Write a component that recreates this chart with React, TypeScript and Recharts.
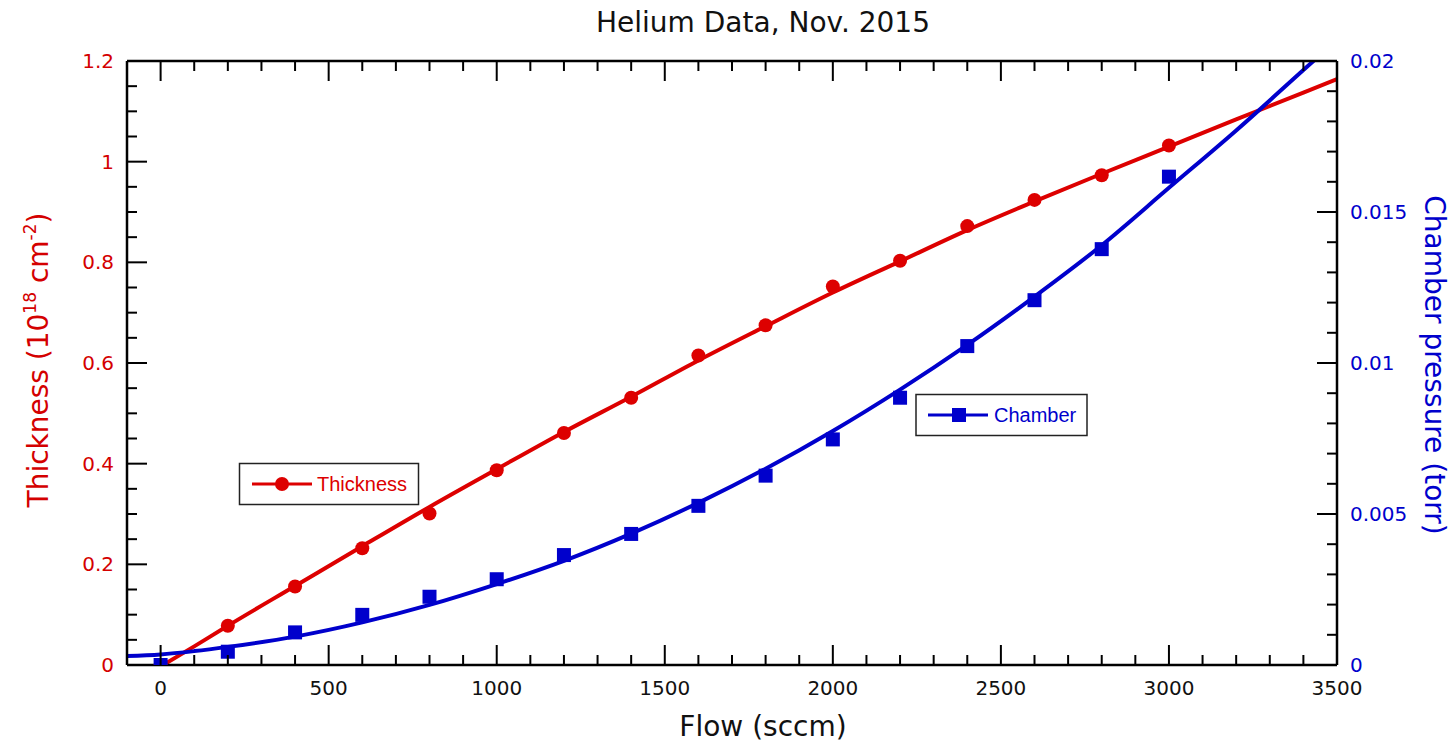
import React from 'react';
import { ComposedChart, Line, Scatter, XAxis, YAxis } from 'recharts';

// measured points (flow in sccm)
const flowPoints = [0, 200, 400, 600, 800, 1000, 1200, 1400, 1600, 1800, 2000, 2200, 2400, 2600, 2800, 3000];
const thicknessPoints = [0, 0.078, 0.156, 0.232, 0.301, 0.387, 0.461, 0.531, 0.615, 0.675, 0.752, 0.803, 0.872, 0.924, 0.973, 1.032];
const chamberPoints = [0, 0.00044, 0.00108, 0.00166, 0.00226, 0.00284, 0.00364, 0.00434, 0.00527, 0.00627, 0.00747, 0.00885, 0.01056, 0.01208, 0.01377, 0.01617];

// fit curves
const thicknessFitFlow = [0, 100, 200, 400, 600, 800, 1000, 1200, 1400, 1600, 1800, 2000, 2200, 2400, 2600, 2800, 3000, 3200, 3400, 3500];
const thicknessFitValues = [-0.003, 0.037, 0.078, 0.157, 0.236, 0.314, 0.389, 0.463, 0.533, 0.605, 0.673, 0.74, 0.802, 0.864, 0.921, 0.976, 1.03, 1.084, 1.137, 1.164];
const chamberFitFlow = [-100, 0, 100, 200, 400, 600, 800, 1000, 1200, 1400, 1600, 1800, 2000, 2200, 2400, 2600, 2800, 3000, 3200, 3400, 3500];
const chamberFitValues = [0.0003, 0.00035, 0.00046, 0.0006, 0.00094, 0.00141, 0.00199, 0.00268, 0.00345, 0.00435, 0.00537, 0.0065, 0.00775, 0.00912, 0.0106, 0.0122, 0.0139, 0.0158, 0.0177, 0.0197, 0.0207];

// tick labels
const xTicks = [0, 500, 1000, 1500, 2000, 2500, 3000, 3500];
const leftTicks = [0, 0.2, 0.4, 0.6, 0.8, 1, 1.2];
const rightTicks = [0, 0.005, 0.01, 0.015, 0.02];

const xMinor = Array.from({ length: 36 }, (_, i) => i * 100);
const leftMinor = Array.from({ length: 25 }, (_, i) => +(i * 0.05).toFixed(2));
const rightMinor = Array.from({ length: 21 }, (_, i) => +(i * 0.001).toFixed(3));

const thicknessData = flowPoints.map((x, i) => ({ x, y: thicknessPoints[i] }));
const chamberData = flowPoints.map((x, i) => ({ x, y: chamberPoints[i] }));
const thicknessFit = thicknessFitFlow.map((x, i) => ({ x, y: thicknessFitValues[i] }));
const chamberFit = chamberFitFlow.map((x, i) => ({ x, y: chamberFitValues[i] }));

const FONT = '"DejaVu Sans", sans-serif';
const LEGEND_FONT = '"Liberation Sans", Arial, sans-serif';
const RED = '#dd0000';
const BLUE = '#0000cc';
const RED_TEXT = '#d40000';

const near = (v: number, list: number[]) => list.some((t) => Math.abs(t - v) < 1e-9);
const fmt = (v: number) => String(parseFloat(v.toFixed(4)));

const BottomTick = ({ x, y, payload }: any) => {
  const major = near(payload.value, xTicks);
  return (
    <g>
      <line x1={x} x2={x} y1={y} y2={y - (major ? 20 : 10)} stroke="#000" strokeWidth={2} />
      {major && (
        <text x={x} y={y + 30} textAnchor="middle" fontSize={20} fontFamily={FONT} fill="#111">
          {fmt(payload.value)}
        </text>
      )}
    </g>
  );
};

const TopTick = ({ x, y, payload }: any) => {
  const major = near(payload.value, xTicks);
  return <line x1={x} x2={x} y1={y} y2={y + (major ? 20 : 10)} stroke="#000" strokeWidth={2} />;
};

const LeftTick = ({ x, y, payload }: any) => {
  const major = near(payload.value, leftTicks);
  return (
    <g>
      <line x1={x} x2={x + (major ? 20 : 10)} y1={y} y2={y} stroke="#000" strokeWidth={2} />
      {major && (
        <text x={x - 13} y={y + 7} textAnchor="end" fontSize={20} fontFamily={FONT} fill={RED_TEXT}>
          {fmt(payload.value)}
        </text>
      )}
    </g>
  );
};

const RightTick = ({ x, y, payload }: any) => {
  const major = near(payload.value, rightTicks);
  return (
    <g>
      <line x1={x} x2={x - (major ? 20 : 10)} y1={y} y2={y} stroke="#000" strokeWidth={2} />
      {major && (
        <text x={x + 13} y={y + 7} textAnchor="start" fontSize={20} fontFamily={FONT} fill={BLUE}>
          {fmt(payload.value)}
        </text>
      )}
    </g>
  );
};

const axisLine = { stroke: '#000', strokeWidth: 2.5 };

export default function App() {
  return (
    <div style={{ position: 'absolute', left: 0, top: 0, width: 1452, height: 747, background: '#fff' }}>
      <ComposedChart width={1452} height={747} margin={{ top: 0, right: 0, bottom: 0, left: 0 }}>
        <XAxis
          xAxisId="bottom"
          dataKey="x"
          type="number"
          domain={[-100, 3500]}
          allowDataOverflow
          ticks={xMinor}
          interval={0}
          height={82}
          tickSize={0}
          tickMargin={0}
          tickLine={false}
          axisLine={axisLine}
          tick={<BottomTick />}
        />
        <XAxis
          xAxisId="top"
          orientation="top"
          dataKey="x"
          type="number"
          domain={[-100, 3500]}
          allowDataOverflow
          ticks={xMinor}
          interval={0}
          height={61}
          tickSize={0}
          tickMargin={0}
          tickLine={false}
          axisLine={axisLine}
          tick={<TopTick />}
        />
        <YAxis
          yAxisId="left"
          dataKey="y"
          type="number"
          domain={[0, 1.2]}
          allowDataOverflow
          ticks={leftMinor}
          interval={0}
          width={127}
          tickSize={0}
          tickMargin={0}
          tickLine={false}
          axisLine={axisLine}
          tick={<LeftTick />}
        />
        <YAxis
          yAxisId="right"
          orientation="right"
          dataKey="y"
          type="number"
          domain={[0, 0.02]}
          allowDataOverflow
          ticks={rightMinor}
          interval={0}
          width={115}
          tickSize={0}
          tickMargin={0}
          tickLine={false}
          axisLine={axisLine}
          tick={<RightTick />}
        />
        <Line
          data={thicknessFit}
          xAxisId="bottom"
          yAxisId="left"
          dataKey="y"
          type="monotone"
          stroke={RED}
          strokeWidth={4}
          dot={false}
          activeDot={false}
          isAnimationActive={false}
        />
        <Scatter
          data={thicknessData}
          xAxisId="bottom"
          yAxisId="left"
          dataKey="y"
          isAnimationActive={false}
          shape={(p: any) => <circle cx={p.cx} cy={p.cy} r={7} fill={RED} />}
        />
        <Line
          data={chamberFit}
          xAxisId="bottom"
          yAxisId="right"
          dataKey="y"
          type="monotone"
          stroke={BLUE}
          strokeWidth={4}
          dot={false}
          activeDot={false}
          isAnimationActive={false}
        />
        <Scatter
          data={chamberData}
          xAxisId="bottom"
          yAxisId="right"
          dataKey="y"
          isAnimationActive={false}
          shape={(p: any) => <rect x={p.cx - 7} y={p.cy - 7} width={14} height={14} fill={BLUE} />}
        />
      </ComposedChart>

      <svg
        width={1452}
        height={747}
        style={{ position: 'absolute', left: 0, top: 0, pointerEvents: 'none' }}
      >
        <text x={763} y={32} textAnchor="middle" fontSize={28} fontFamily={FONT} fill="#111">
          Helium Data, Nov. 2015
        </text>
        <text x={763} y={736} textAnchor="middle" fontSize={28} fontFamily={FONT} fill="#111">
          Flow (sccm)
        </text>
        <text
          x={48}
          y={360}
          transform="rotate(-90 48 360)"
          textAnchor="middle"
          fontSize={28}
          fontFamily={FONT}
          fill={RED_TEXT}
        >
          Thickness (10
          <tspan dy={-12} fontSize={17}>18</tspan>
          <tspan dy={12}> cm</tspan>
          <tspan dy={-12} fontSize={17}>-2</tspan>
          <tspan dy={12}>)</tspan>
        </text>
        <text
          x={1425}
          y={365}
          transform="rotate(90 1425 365)"
          textAnchor="middle"
          fontSize={28}
          fontFamily={FONT}
          fill={BLUE}
        >
          Chamber pressure (torr)
        </text>

        {/* legend boxes */}
        <rect x={239.5} y={463.5} width={179} height={41} fill="#fff" stroke="#222" strokeWidth={1.5} />
        <line x1={252} x2={312} y1={484} y2={484} stroke={RED} strokeWidth={3} />
        <circle cx={282} cy={484} r={7} fill={RED} />
        <text x={317} y={491} fontSize={20} fontFamily={LEGEND_FONT} fill={RED}>
          Thickness
        </text>

        <rect x={916} y={394.5} width={171} height={41} fill="#fff" stroke="#222" strokeWidth={1.5} />
        <line x1={928} x2={988} y1={415} y2={415} stroke={BLUE} strokeWidth={3} />
        <rect x={952} y={408} width={14} height={14} fill={BLUE} />
        <text x={994} y={422} fontSize={20} fontFamily={LEGEND_FONT} fill={BLUE}>
          Chamber
        </text>
      </svg>
    </div>
  );
}
